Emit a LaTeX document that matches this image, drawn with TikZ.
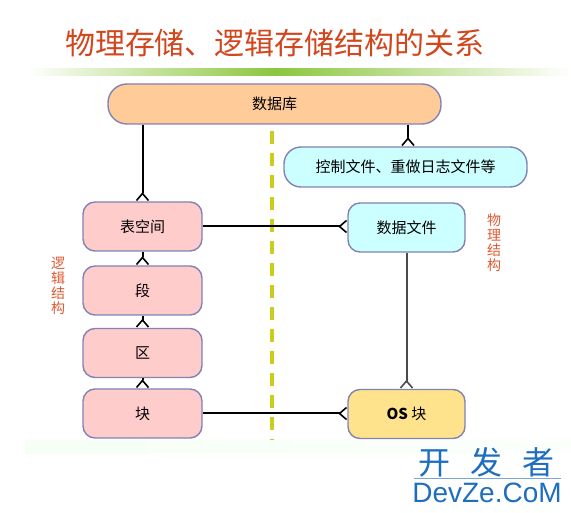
\documentclass[tikz,border=0pt]{standalone}
\usepackage{fontspec}
\setmainfont{Liberation Sans}
\newfontfamily\cjk{Noto Sans CJK SC}
\usetikzlibrary{arrows.meta}
\definecolor{titlered}{HTML}{D2461E}
\definecolor{labred}{HTML}{DD5A32}
\definecolor{edgeblue}{HTML}{8282B4}
\definecolor{dbfill}{HTML}{FFCC99}
\definecolor{ctlfill}{HTML}{CCFFFF}
\definecolor{logfill}{HTML}{FFCCCC}
\definecolor{osfill}{HTML}{FFE38C}
\definecolor{sepyellow}{HTML}{CCCC1A}
\definecolor{barline}{HTML}{8CC63F}
\definecolor{wmblue}{HTML}{1E6EC0}

\tikzset{many/.tip={Straight Barb[reversed,length=7pt,width=12pt,line width=1.6pt]}}

\begin{document}
\begin{tikzpicture}[x=1pt,y=-1pt,
    box/.style={draw=edgeblue,line width=1.4pt,rounded corners=12pt,align=center,
      font=\cjk\fontsize{15}{15}\selectfont,inner sep=0pt},
    dbbox/.style={box,fill=dbfill,minimum width=333,minimum height=40,rounded corners=19pt},
    ctlbox/.style={box,fill=ctlfill,minimum width=243,minimum height=40,rounded corners=17pt},
    logbox/.style={box,fill=logfill,minimum width=119,minimum height=49},
    filebox/.style={box,fill=ctlfill,minimum width=117,minimum height=49},
    osbox/.style={box,fill=osfill,minimum width=117,minimum height=49},
    link/.style={draw=black,line width=2pt},
    vlabel/.style={text=labred,align=center,font=\cjk\fontsize{14}{15}\selectfont,inner sep=0pt}]
  \useasboundingbox (0,0) rectangle (571,513);

  % title and green bar
  \node[text=titlered,font=\cjk\fontsize{30}{30}\selectfont,inner sep=0pt] (title) at (275,43) {物理存储、逻辑存储结构的关系};
  \shade[left color=white,right color=barline] (27,69) rectangle (275,76);
  \shade[left color=barline,right color=white] (275,69) rectangle (571,76);
  \shade[left color=green!4,right color=green!1] (25,440) rectangle (571,453);

  % separator
  \draw[sepyellow,line width=3.5pt,dash pattern=on 13pt off 9pt] (272,131) -- (272,440);

  % nodes
  \node[dbbox] (db) at (274.5,104) {数据库};
  \node[ctlbox] (ctl) at (405.5,167) {控制文件、重做日志文件等};
  \node[logbox] (ts) at (142.5,226.5) {表空间};
  \node[logbox] (seg) at (142.5,290.5) {段};
  \node[logbox] (ext) at (142.5,353) {区};
  \node[logbox] (blk) at (142.5,413.5) {块};
  \node[filebox] (df) at (406.5,227.5) {数据文件};
  \node[osbox] (os) at (406.5,414) {\bfseries OS\ \mdseries\cjk 块};
  \coordinate (ctltop) at (408,0);

  \node[vlabel] (logic) at (58,286) {逻\\辑\\结\\构};
  \node[vlabel] (phys) at (494,243) {物\\理\\结\\构};

  % connectors
  \draw[link,-many] (ts |- db.south) -- (ts.north);
  \draw[link,-many] (ctltop |- db.south) -- (ctltop |- ctl.north);
  \draw[link,-many] (ts.south) -- (seg.north);
  \draw[link,-many] (seg.south) -- (ext.north);
  \draw[link,-many] (ext.south) -- (blk.north);
  \draw[link,-many] (ts.east) -- (ts.east -| df.west);
  \draw[link,-many,draw=black!70] (df.south) -- (os.north);
  \draw[link,-many] (blk.east) -- (blk.east -| os.west);

  % watermark
  \node[text=wmblue,font=\cjk\fontsize{32}{32}\selectfont,inner sep=0pt] (wm) at (486,462) {开\hspace{20pt}发\hspace{20pt}者};
  \node[text=wmblue,font=\fontsize{28}{28}\selectfont,inner sep=0pt] (site) at (487,493) {DevZe.CoM};
  \draw[wmblue!60,line width=0.8pt] (414,478) -- (561,478);
\end{tikzpicture}
\end{document}
